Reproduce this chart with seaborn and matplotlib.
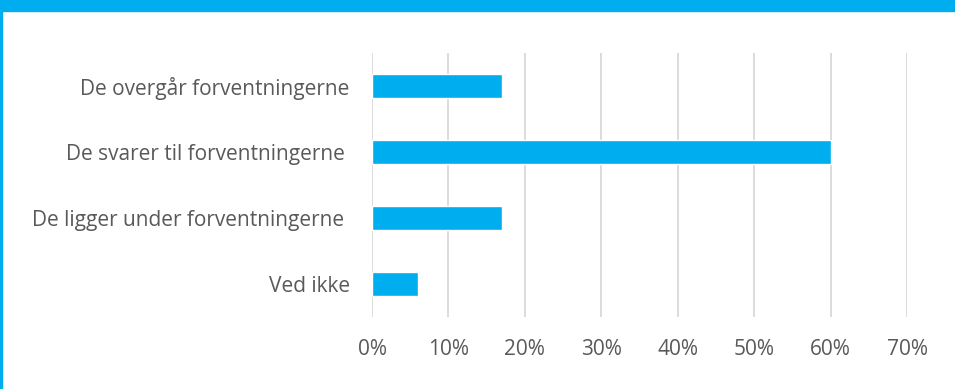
import matplotlib
matplotlib.use("Agg")
from matplotlib import pyplot as plt
from matplotlib.patches import Rectangle
import seaborn as sns
import pandas as pd

categories = ["De overgår forventningerne", "De svarer til forventningerne ",
              "De ligger under forventningerne ", "Ved ikke"]
shares = [17, 60, 17, 6]
ticks = [0, 10, 20, 30, 40, 50, 60, 70]
tick_labels = [f"{t}%" for t in ticks]

BLUE = "#00ADEF"
GREY_TEXT = "#595959"
GRID = "#D9D9D9"

sns.set_theme(style="white")
plt.rcParams['font.family'] = ['Open Sans', 'DejaVu Sans']

df = pd.DataFrame({"category": categories, "share": shares})

fig = plt.figure(figsize=(9.55, 3.89), dpi=100)
ax = fig.add_axes([372 / 955, 1 - 317 / 389, 535 / 955, 264 / 389])

sns.barplot(data=df, x="share", y="category", orient="h", color=BLUE,
            width=0.356, saturation=1, ax=ax)

ax.set_xlim(0, 70)
ax.set_xticks(ticks)
ax.set_xticklabels(tick_labels)
ax.set_xlabel("")
ax.set_ylabel("")
ax.xaxis.grid(True, color=GRID, linewidth=1.3)
ax.set_axisbelow(True)
for s in ax.spines.values():
    s.set_visible(False)
ax.tick_params(axis="both", length=0, colors=GREY_TEXT, labelsize=15)
ax.tick_params(axis="x", pad=16)
ax.tick_params(axis="y", pad=16)

# blue frame: thick top bar and thin left edge
fig.patches.append(Rectangle((0, 1 - 11 / 389), 1, 11 / 389, transform=fig.transFigure,
                             color=BLUE, zorder=0))
fig.patches.append(Rectangle((0, 0), 2 / 955, 1, transform=fig.transFigure,
                             color=BLUE, zorder=0))

fig.savefig("out.png", dpi=100, facecolor="white")
